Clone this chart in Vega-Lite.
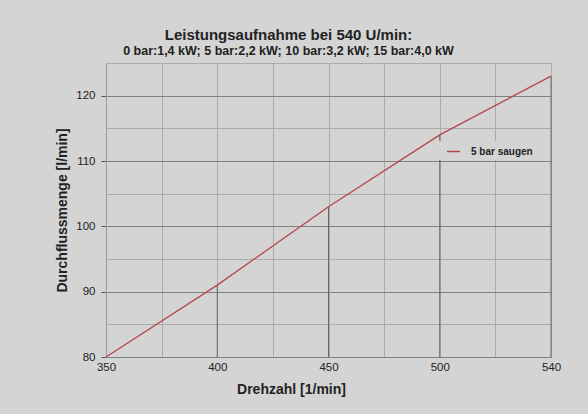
{
  "$schema": "https://vega.github.io/schema/vega-lite/v6.json",
  "width": 445,
  "height": 294,
  "autosize": {"type": "none"},
  "padding": {"left": 106, "top": 63, "right": 37, "bottom": 57},
  "background": "#d4d4d4",
  "config": {
    "font": "Liberation Sans",
    "view": {"stroke": "#999999", "strokeWidth": 1}
  },
  "title": {
    "text": "Leistungsaufnahme bei 540 U/min:",
    "subtitle": "0 bar:1,4 kW; 5 bar:2,2 kW; 10 bar:3,2 kW; 15 bar:4,0 kW",
    "fontSize": 15,
    "fontWeight": "bold",
    "subtitleFontSize": 12.5,
    "subtitleFontWeight": "bold",
    "color": "#222222",
    "subtitleColor": "#222222",
    "anchor": "middle",
    "dx": -40,
    "offset": 6,
    "subtitlePadding": 2
  },
  "data": {
    "values": [
      {"x": 350, "y": 80, "series": "5 bar saugen"},
      {"x": 400, "y": 91, "series": "5 bar saugen"},
      {"x": 450, "y": 103, "series": "5 bar saugen"},
      {"x": 500, "y": 114, "series": "5 bar saugen"},
      {"x": 540, "y": 123, "series": "5 bar saugen"}
    ]
  },
  "encoding": {
    "x": {
      "field": "x",
      "type": "ordinal",
      "scale": {"type": "point", "domain": [350, 375, 400, 425, 450, 475, 500, 520, 540], "padding": 0},
      "axis": {
        "title": "Drehzahl [1/min]",
        "titleFontSize": 14,
        "titleFontWeight": "bold",
        "titleColor": "#222222",
        "titleX": 185,
        "titleY": 36,
        "titleBaseline": "alphabetic",
        "labelAngle": 0,
        "labelFontSize": 11.5,
        "labelColor": "#222222",
        "labelExpr": "indexof([350, 400, 450, 500, 540], datum.value) >= 0 ? datum.label : ''",
        "ticks": false,
        "labelPadding": 4,
        "domainColor": "#808080",
        "grid": true,
        "gridColor": "#ababab"
      }
    },
    "y": {
      "field": "y",
      "type": "quantitative",
      "scale": {"domain": [80, 125], "nice": false, "zero": false},
      "axis": {
        "values": [80, 85, 90, 95, 100, 105, 110, 115, 120, 125],
        "title": "Durchflussmenge [l/min]",
        "titleFontSize": 14,
        "titleFontWeight": "bold",
        "titleColor": "#222222",
        "titlePadding": 6,
        "labelExpr": "datum.value % 10 === 0 ? datum.label : ''",
        "labelFontSize": 11.5,
        "labelColor": "#222222",
        "tickSize": 5,
        "labelPadding": 6,
        "tickColor": "#555555",
        "tickOpacity": {"condition": {"test": "datum.value % 10 === 0", "value": 1}, "value": 0},
        "gridColor": {"condition": {"test": "datum.value % 10 === 0", "value": "#808080"}, "value": "#ababab"},
        "domainColor": "#999999"
      }
    }
  },
  "layer": [
    {
      "mark": {"type": "rule", "color": "#666666", "strokeWidth": 1},
      "encoding": {"y2": {"datum": 80}}
    },
    {
      "mark": {"type": "line", "strokeWidth": 1.3},
      "encoding": {
        "color": {
          "field": "series",
          "type": "nominal",
          "scale": {"range": ["#b5474b"]},
          "legend": {
            "title": null,
            "orient": "none",
            "legendX": 329,
            "legendY": 78,
            "fillColor": "#d4d4d4",
            "padding": 3,
            "symbolType": "stroke",
            "symbolSize": 169,
            "symbolStrokeWidth": 1.5,
            "symbolOffset": 8,
            "labelFontSize": 10,
            "labelFontWeight": "bold",
            "labelColor": "#222222",
            "labelOffset": 10
          }
        }
      }
    }
  ]
}
